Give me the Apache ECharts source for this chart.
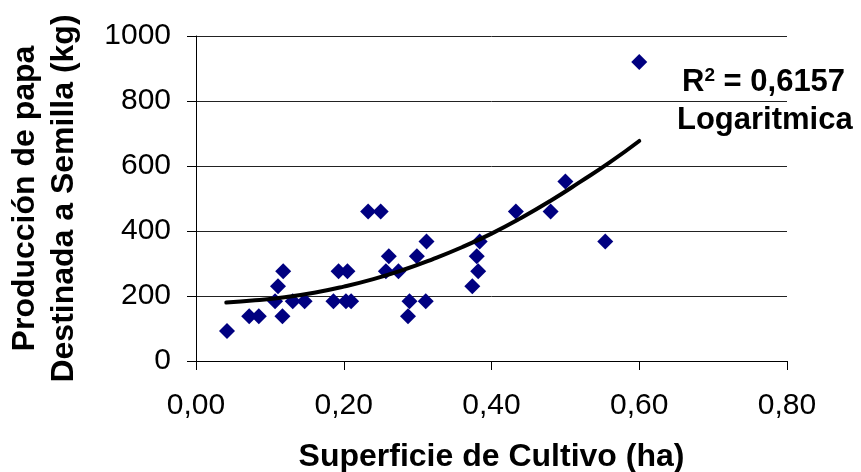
<!DOCTYPE html>
<html>
<head>
<meta charset="utf-8">
<script src="https://cdn.jsdelivr.net/npm/echarts@6/dist/echarts.min.js"></script>
<style>
html, body { margin: 0; padding: 0; background: #fff; }
#chart { width: 861px; height: 472px; }
</style>
</head>
<body>
<div id="chart"></div>
<script>
// Superficie de cultivo (ha)
const superficie = [0.042, 0.072, 0.085, 0.107, 0.111, 0.117, 0.118, 0.131, 0.147, 0.186,
  0.193, 0.205, 0.203, 0.210, 0.233, 0.250, 0.257, 0.261, 0.274, 0.287,
  0.289, 0.299, 0.311, 0.312, 0.374, 0.380, 0.382, 0.384, 0.433, 0.480,
  0.500, 0.554, 0.600];
// Producción de papa destinada a semilla (kg)
const produccion = [92, 138, 138, 184, 230, 138, 276, 184, 184, 184,
  276, 276, 184, 184, 460, 460, 276, 322, 276, 138,
  184, 322, 184, 368, 230, 322, 276, 368, 460, 460,
  552, 368, 920];
// Trend line
const trendX = [0.041, 0.08, 0.12, 0.16, 0.20, 0.24, 0.28, 0.32, 0.36, 0.40, 0.44, 0.48, 0.52, 0.56, 0.60];
const trendY = [180, 187, 196, 210, 229, 252, 280, 313, 350, 392, 440, 493, 551, 611, 677];
const xTickLabels = ['0,00', '0,20', '0,40', '0,60', '0,80'];
const yTickLabels = ['0', '200', '400', '600', '800', '1000'];
const r2Text = 'R{sup|2} = 0,6157';
const trendName = 'Logaritmica';

const FONT = '"Liberation Sans", Arial, sans-serif';
const chart = echarts.init(document.getElementById('chart'), null, { renderer: 'canvas' });

const scatterData = superficie.map((x, i) => [x, produccion[i]]);
const trendData = trendX.map((x, i) => [x, trendY[i]]);

chart.setOption({
  animation: false,
  backgroundColor: '#ffffff',
  grid: { left: 196, right: 74, top: 36, bottom: 111, containLabel: false, outerBoundsMode: 'none' },
  xAxis: {
    type: 'value', min: 0, max: 0.8, interval: 0.2,
    name: 'Superficie de Cultivo (ha)',
    nameLocation: 'middle', nameGap: 80,
    nameTextStyle: { fontFamily: FONT, fontSize: 32, fontWeight: 'bold', color: '#000', verticalAlign: 'top' },
    axisLine: { show: true, onZero: false, lineStyle: { color: '#000', width: 1 } },
    axisTick: { show: true, inside: false, length: 9, lineStyle: { color: '#000' } },
    axisLabel: {
      margin: 30, fontFamily: FONT, fontSize: 30, color: '#000',
      formatter: (v) => xTickLabels[Math.round(v / 0.2)]
    },
    splitLine: { show: false }
  },
  yAxis: {
    type: 'value', min: 0, max: 1000, interval: 200,
    name: 'Producción de papa\nDestinada a Semilla (kg)',
    nameLocation: 'middle', nameGap: 112,
    nameTextStyle: { fontFamily: FONT, fontSize: 32, fontWeight: 'bold', color: '#000', lineHeight: 39 },
    axisLine: { show: true, onZero: false, lineStyle: { color: '#000', width: 1 } },
    axisTick: { show: true, inside: false, length: 9, lineStyle: { color: '#000' } },
    axisLabel: {
      margin: 25, fontFamily: FONT, fontSize: 30, color: '#000',
      formatter: (v) => yTickLabels[Math.round(v / 200)]
    },
    splitLine: { show: true, lineStyle: { color: '#222', width: 1 } }
  },
  series: [
    {
      type: 'scatter', name: 'Producción',
      data: scatterData,
      symbol: 'diamond', symbolSize: 16,
      itemStyle: { color: '#000080', opacity: 1 },
      z: 2
    },
    {
      type: 'line', name: trendName,
      data: trendData,
      showSymbol: false, symbol: 'none',
      smooth: 0.5,
      lineStyle: { color: '#000', width: 4, cap: 'round' },
      z: 3
    }
  ],
  graphic: [
    {
      type: 'text', left: 682, top: 66, z: 10,
      style: {
        text: r2Text,
        font: 'bold 31px ' + FONT, fill: '#000',
        rich: { sup: { fontSize: 19, fontWeight: 'bold', fontFamily: FONT, verticalAlign: 'top', padding: [0, 0, 13, 0] } }
      }
    },
    {
      type: 'text', left: 677, top: 105, z: 10,
      style: { text: trendName, font: 'bold 31px ' + FONT, fill: '#000' }
    }
  ]
});
</script>
</body>
</html>
